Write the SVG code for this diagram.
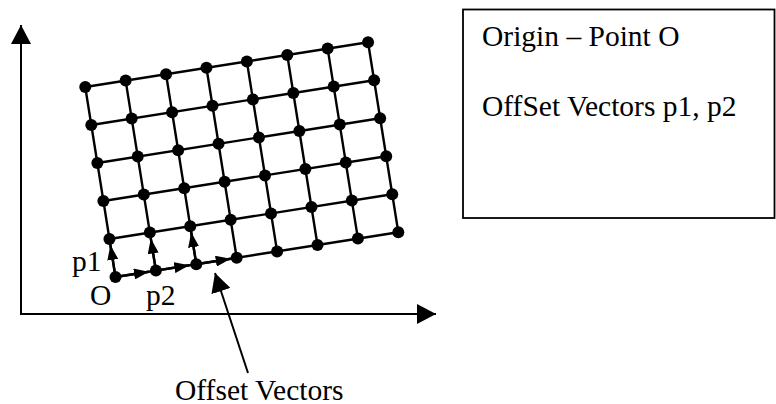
<svg xmlns="http://www.w3.org/2000/svg" width="776" height="404" viewBox="0 0 776 404">
<style>
.ax{stroke:#000;stroke-width:2;fill:none}
.gl{stroke:#000;stroke-width:2.4;fill:none;stroke-linecap:round}
.dot{fill:#000}
.pv{stroke:#000;stroke-width:2.4;fill:none}
.t{font-family:"Liberation Serif","Times New Roman",serif;font-size:29.5px;fill:#000}
</style>
<defs>
<marker id="big" markerUnits="userSpaceOnUse" markerWidth="20" markerHeight="20" refX="19" refY="10" orient="auto" viewBox="0 0 20 20"><path d="M0,0 L19,10 L0,20 z" fill="#000"/></marker>
<marker id="small" markerUnits="userSpaceOnUse" markerWidth="15" markerHeight="11" refX="15" refY="5.5" orient="auto" viewBox="0 0 15 11"><path d="M0,0 L15,5.5 L0,11 z" fill="#000"/></marker>
</defs>
<rect width="776" height="404" fill="#fff"/>
<g id="axes">
<line class="ax" x1="21" y1="315" x2="21" y2="25" marker-end="url(#big)"/>
<line class="ax" x1="20" y1="314" x2="436" y2="314" marker-end="url(#big)"/>
</g>
<g id="grid">
<path class="gl" d="M115.5,277 L398.3,232.2 M109.45,239 L392.25,194.2 M103.4,201 L386.2,156.2 M97.35,163 L380.15,118.2 M91.3,125 L374.1,80.2 M85.25,87 L368.05,42.2"/>
<path class="gl" d="M115.5,277 L85.25,87 M155.9,270.6 L125.65,80.6 M196.3,264.2 L166.05,74.2 M236.7,257.8 L206.45,67.8 M277.1,251.4 L246.85,61.4 M317.5,245 L287.25,55 M357.9,238.6 L327.65,48.6 M398.3,232.2 L368.05,42.2"/>
</g>
<g id="points">
<g class="dot">
<circle cx="115.5" cy="277" r="6"/><circle cx="155.9" cy="270.6" r="6"/><circle cx="196.3" cy="264.2" r="6"/><circle cx="236.7" cy="257.8" r="6"/><circle cx="277.1" cy="251.4" r="6"/><circle cx="317.5" cy="245" r="6"/><circle cx="357.9" cy="238.6" r="6"/><circle cx="398.3" cy="232.2" r="6"/>
<circle cx="109.45" cy="239" r="6"/><circle cx="149.85" cy="232.6" r="6"/><circle cx="190.25" cy="226.2" r="6"/><circle cx="230.65" cy="219.8" r="6"/><circle cx="271.05" cy="213.4" r="6"/><circle cx="311.45" cy="207" r="6"/><circle cx="351.85" cy="200.6" r="6"/><circle cx="392.25" cy="194.2" r="6"/>
<circle cx="103.4" cy="201" r="6"/><circle cx="143.8" cy="194.6" r="6"/><circle cx="184.2" cy="188.2" r="6"/><circle cx="224.6" cy="181.8" r="6"/><circle cx="265" cy="175.4" r="6"/><circle cx="305.4" cy="169" r="6"/><circle cx="345.8" cy="162.6" r="6"/><circle cx="386.2" cy="156.2" r="6"/>
<circle cx="97.35" cy="163" r="6"/><circle cx="137.75" cy="156.6" r="6"/><circle cx="178.15" cy="150.2" r="6"/><circle cx="218.55" cy="143.8" r="6"/><circle cx="258.95" cy="137.4" r="6"/><circle cx="299.35" cy="131" r="6"/><circle cx="339.75" cy="124.6" r="6"/><circle cx="380.15" cy="118.2" r="6"/>
<circle cx="91.3" cy="125" r="6"/><circle cx="131.7" cy="118.6" r="6"/><circle cx="172.1" cy="112.2" r="6"/><circle cx="212.5" cy="105.8" r="6"/><circle cx="252.9" cy="99.4" r="6"/><circle cx="293.3" cy="93" r="6"/><circle cx="333.7" cy="86.6" r="6"/><circle cx="374.1" cy="80.2" r="6"/>
<circle cx="85.25" cy="87" r="6"/><circle cx="125.65" cy="80.6" r="6"/><circle cx="166.05" cy="74.2" r="6"/><circle cx="206.45" cy="67.8" r="6"/><circle cx="246.85" cy="61.4" r="6"/><circle cx="287.25" cy="55" r="6"/><circle cx="327.65" cy="48.6" r="6"/><circle cx="368.05" cy="42.2" r="6"/>
</g>
</g>
<g id="connectors">
<line class="pv" x1="115.5" y1="277" x2="110.4" y2="245" marker-end="url(#small)"/>
<line class="pv" x1="155.9" y1="270.6" x2="150.8" y2="238.6" marker-end="url(#small)"/>
<line class="pv" x1="196.3" y1="264.2" x2="191.2" y2="232.2" marker-end="url(#small)"/>
<line class="pv" x1="115.5" y1="277" x2="148.9" y2="271.7" marker-end="url(#small)"/>
<line class="pv" x1="155.9" y1="270.6" x2="189.3" y2="265.3" marker-end="url(#small)"/>
<line class="pv" x1="196.3" y1="264.2" x2="230.7" y2="258.8" marker-end="url(#small)"/>
<line class="ax" x1="248" y1="373" x2="215" y2="273" marker-end="url(#big)"/>
</g>
<g id="labels">
<text class="t" x="72" y="271">p1</text>
<text class="t" x="90" y="305">O</text>
<text class="t" x="146" y="305">p2</text>
<text class="t" x="175" y="399.5">Offset Vectors</text>
</g>
<g id="legend">
<rect x="463" y="9.5" width="311.5" height="208.5" fill="none" stroke="#000" stroke-width="1.8"/>
<text class="t" x="482" y="46">Origin – Point O</text>
<text class="t" x="482" y="116">OffSet Vectors p1, p2</text>
</g>
</svg>
